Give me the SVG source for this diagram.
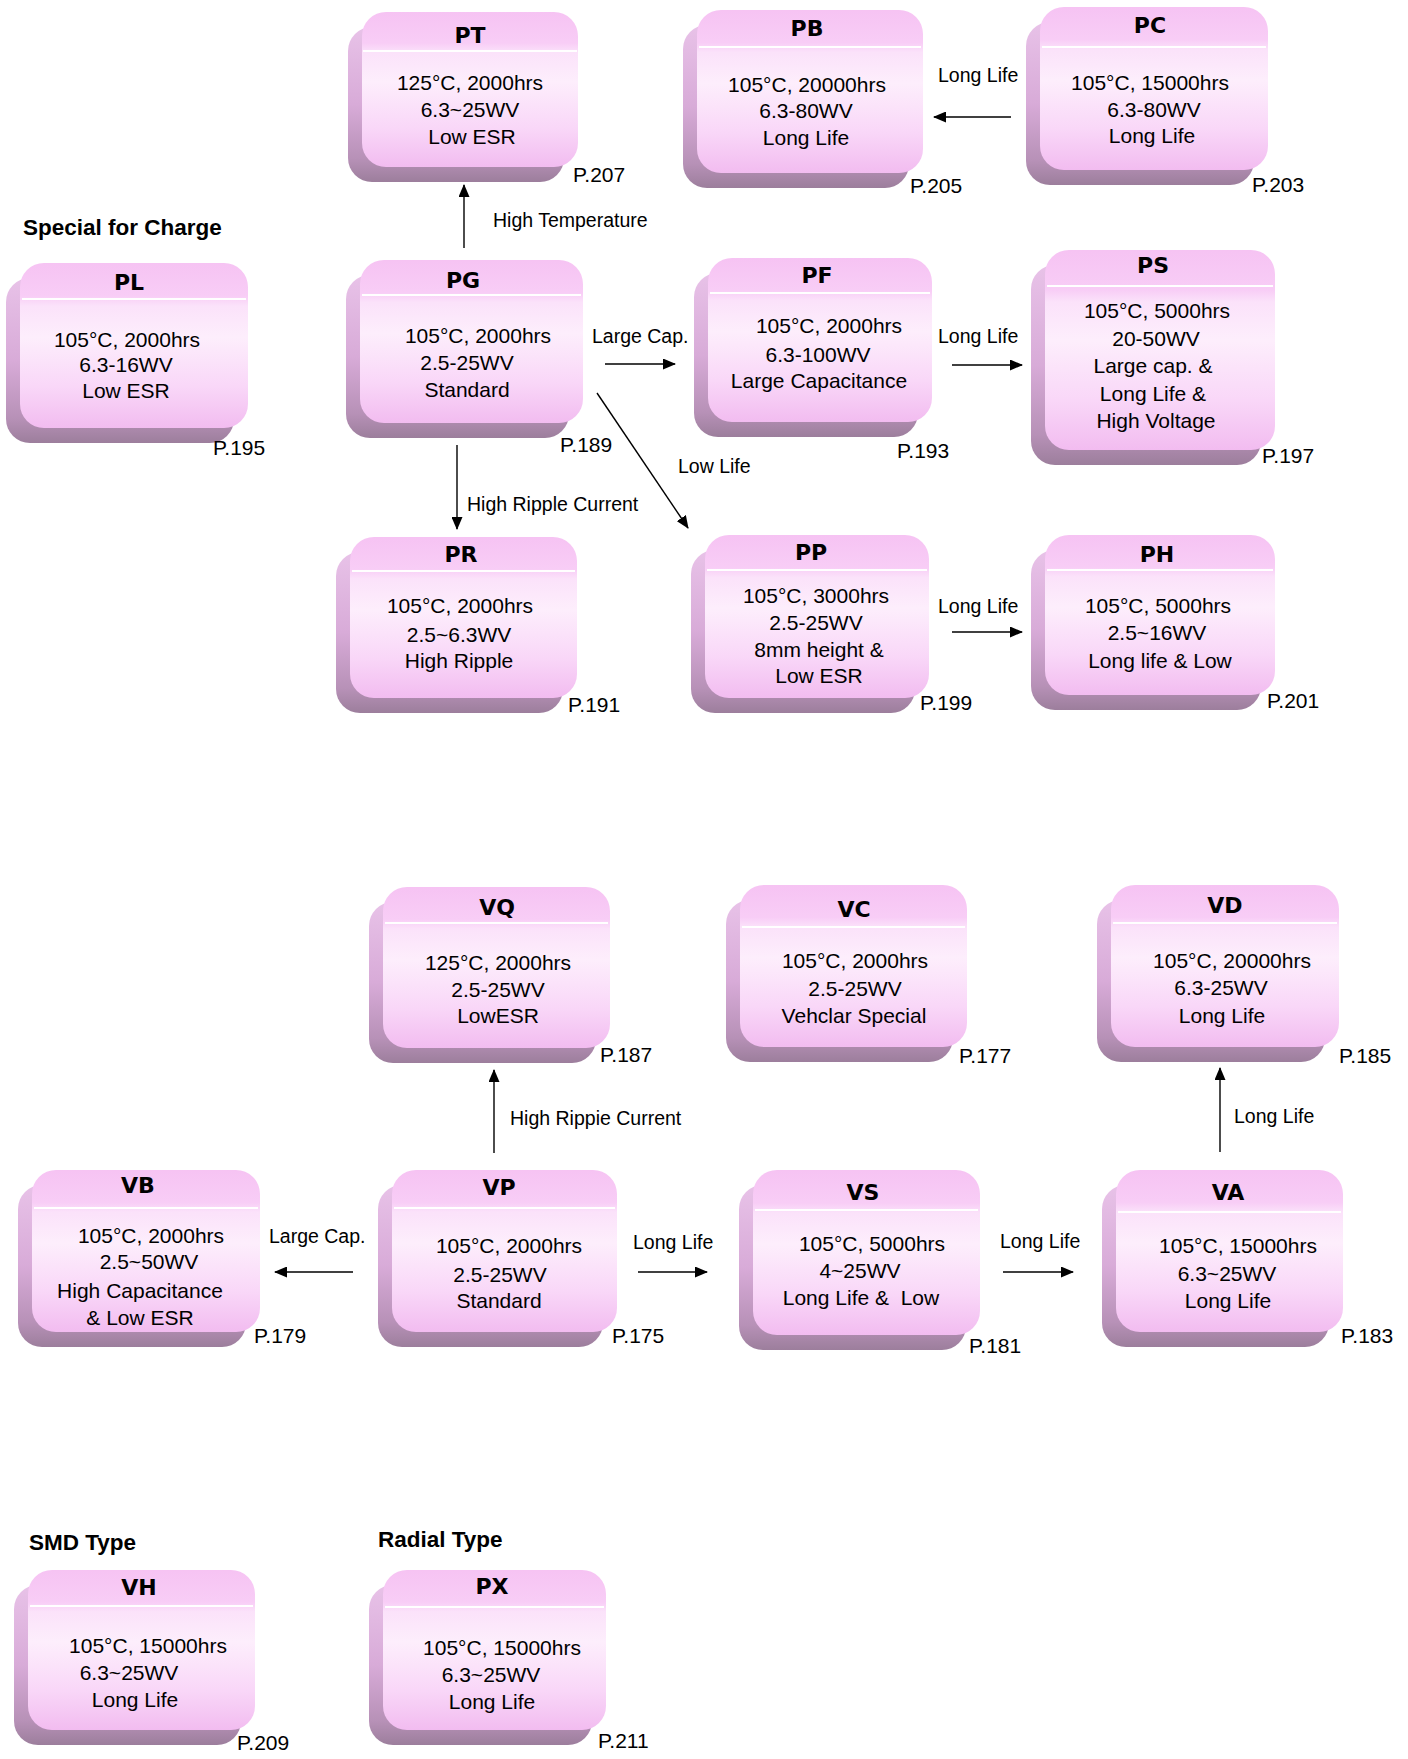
<svg xmlns="http://www.w3.org/2000/svg" width="1408" height="1759" viewBox="0 0 1408 1759">
<defs>
<linearGradient id="gf" x1="0" y1="0" x2="0" y2="1">
<stop offset="0" stop-color="#f6c3f3"/>
<stop offset="0.2" stop-color="#f8cdf6"/>
<stop offset="0.26" stop-color="#fbe2fa"/>
<stop offset="0.45" stop-color="#fdeefc"/>
<stop offset="0.75" stop-color="#f9d7f8"/>
<stop offset="1" stop-color="#f2bcf0"/>
</linearGradient>
<linearGradient id="gb" x1="0" y1="0" x2="0" y2="1">
<stop offset="0" stop-color="#e8c2e8"/>
<stop offset="0.5" stop-color="#d8abd8"/>
<stop offset="0.85" stop-color="#b791b7"/>
<stop offset="1" stop-color="#9c7e9c"/>
</linearGradient>
<marker id="ah" markerUnits="userSpaceOnUse" markerWidth="13" markerHeight="11" refX="12" refY="5.5" orient="auto">
<path d="M0,0 L13,5.5 L0,11 z" fill="#000"/>
</marker>
</defs>
<style>
.bk{fill:url(#gb)}
.fr{fill:url(#gf)}
.wl{stroke:#fff;stroke-width:2}
.t{font-family:"DejaVu Sans",Verdana,sans-serif;font-weight:bold;font-size:22px;text-anchor:middle;fill:#000}
.b{font-family:"Liberation Sans",Arial,sans-serif;font-size:21px;text-anchor:middle;fill:#000}
.p{font-family:"Liberation Sans",Arial,sans-serif;font-size:21px;fill:#000}
.l{font-family:"Liberation Sans",Arial,sans-serif;font-size:19.5px;fill:#000}
.h{font-family:"Liberation Sans",Arial,sans-serif;font-size:22.5px;font-weight:bold;fill:#000}
.c{stroke:#000;stroke-width:1.4;fill:none;marker-end:url(#ah)}
</style>
<rect width="1408" height="1759" fill="#fff"/>

<text class="h" x="23" y="235">Special for Charge</text>
<text class="h" x="29" y="1550">SMD Type</text>
<text class="h" x="378" y="1547">Radial Type</text>

<g id="connectors">
<line class="c" x1="464" y1="248" x2="464" y2="185"/>
<line class="c" x1="1011" y1="117" x2="934" y2="117"/>
<line class="c" x1="605" y1="364" x2="675" y2="364"/>
<line class="c" x1="952" y1="365" x2="1022" y2="365"/>
<line class="c" x1="457" y1="445" x2="457" y2="529"/>
<line class="c" x1="597" y1="393" x2="688" y2="528"/>
<line class="c" x1="952" y1="632" x2="1022" y2="632"/>
<line class="c" x1="494" y1="1153" x2="494" y2="1070"/>
<line class="c" x1="1220" y1="1152" x2="1220" y2="1068"/>
<line class="c" x1="353" y1="1272" x2="275" y2="1272"/>
<line class="c" x1="638" y1="1272" x2="707" y2="1272"/>
<line class="c" x1="1003" y1="1272" x2="1073" y2="1272"/>
<text class="l" x="493" y="227">High Temperature</text>
<text class="l" x="938" y="82">Long Life</text>
<text class="l" x="592" y="343">Large Cap.</text>
<text class="l" x="938" y="343">Long Life</text>
<text class="l" x="467" y="511">High Ripple Current</text>
<text class="l" x="678" y="473">Low Life</text>
<text class="l" x="938" y="613">Long Life</text>
<text class="l" x="510" y="1125">High Rippie Current</text>
<text class="l" x="1234" y="1123">Long Life</text>
<text class="l" x="269" y="1243">Large Cap.</text>
<text class="l" x="633" y="1249">Long Life</text>
<text class="l" x="1000" y="1248">Long Life</text>
</g>

<g id="PT">
<rect class="bk" x="348" y="27" width="216" height="155" rx="24"/>
<rect class="fr" x="362" y="12" width="216" height="155" rx="24"/>
<line class="wl" x1="363" y1="51" x2="577" y2="51"/>
<text class="t" x="470" y="43">PT</text>
<text class="b" x="470" y="90">125°C, 2000hrs</text>
<text class="b" x="470" y="117">6.3~25WV</text>
<text class="b" x="472" y="144">Low ESR</text>
<text class="p" x="573" y="182">P.207</text>
</g>

<g id="PB">
<rect class="bk" x="683" y="25" width="226" height="163" rx="24"/>
<rect class="fr" x="697" y="10" width="226" height="163" rx="24"/>
<line class="wl" x1="699" y1="47" x2="921" y2="47"/>
<text class="t" x="807" y="36">PB</text>
<text class="b" x="807" y="92">105°C, 20000hrs</text>
<text class="b" x="806" y="118">6.3-80WV</text>
<text class="b" x="806" y="145">Long Life</text>
<text class="p" x="910" y="193">P.205</text>
</g>

<g id="PC">
<rect class="bk" x="1026" y="22" width="228" height="163" rx="24"/>
<rect class="fr" x="1040" y="7" width="228" height="163" rx="24"/>
<line class="wl" x1="1042" y1="47" x2="1266" y2="47"/>
<text class="t" x="1150" y="33">PC</text>
<text class="b" x="1150" y="90">105°C, 15000hrs</text>
<text class="b" x="1154" y="117">6.3-80WV</text>
<text class="b" x="1152" y="143">Long Life</text>
<text class="p" x="1252" y="192">P.203</text>
</g>

<g id="PL">
<rect class="bk" x="6" y="278" width="228" height="165" rx="24"/>
<rect class="fr" x="20" y="263" width="228" height="165" rx="24"/>
<line class="wl" x1="22" y1="299" x2="246" y2="299"/>
<text class="t" x="129" y="290">PL</text>
<text class="b" x="127" y="347">105°C, 2000hrs</text>
<text class="b" x="126" y="372">6.3-16WV</text>
<text class="b" x="126" y="398">Low ESR</text>
<text class="p" x="213" y="455">P.195</text>
</g>

<g id="PG">
<rect class="bk" x="346" y="275" width="223" height="163" rx="24"/>
<rect class="fr" x="360" y="260" width="223" height="163" rx="24"/>
<line class="wl" x1="362" y1="295" x2="581" y2="295"/>
<text class="t" x="463" y="288">PG</text>
<text class="b" x="478" y="343">105°C, 2000hrs</text>
<text class="b" x="467" y="370">2.5-25WV</text>
<text class="b" x="467" y="397">Standard</text>
<text class="p" x="560" y="452">P.189</text>
</g>

<g id="PF">
<rect class="bk" x="694" y="273" width="224" height="164" rx="24"/>
<rect class="fr" x="708" y="258" width="224" height="164" rx="24"/>
<line class="wl" x1="710" y1="293" x2="930" y2="293"/>
<text class="t" x="817" y="283">PF</text>
<text class="b" x="829" y="333">105°C, 2000hrs</text>
<text class="b" x="818" y="362">6.3-100WV</text>
<text class="b" x="819" y="388">Large Capacitance</text>
<text class="p" x="897" y="458">P.193</text>
</g>

<g id="PS">
<rect class="bk" x="1031" y="265" width="230" height="200" rx="24"/>
<rect class="fr" x="1045" y="250" width="230" height="200" rx="24"/>
<line class="wl" x1="1047" y1="286" x2="1273" y2="286"/>
<text class="t" x="1153" y="273">PS</text>
<text class="b" x="1157" y="318">105°C, 5000hrs</text>
<text class="b" x="1156" y="346">20-50WV</text>
<text class="b" x="1153" y="373">Large cap. &amp;</text>
<text class="b" x="1153" y="401">Long Life &amp;</text>
<text class="b" x="1156" y="428">High Voltage</text>
<text class="p" x="1262" y="463">P.197</text>
</g>

<g id="PR">
<rect class="bk" x="336" y="552" width="227" height="161" rx="24"/>
<rect class="fr" x="350" y="537" width="227" height="161" rx="24"/>
<line class="wl" x1="352" y1="571" x2="575" y2="571"/>
<text class="t" x="461" y="562">PR</text>
<text class="b" x="460" y="613">105°C, 2000hrs</text>
<text class="b" x="459" y="642">2.5~6.3WV</text>
<text class="b" x="459" y="668">High Ripple</text>
<text class="p" x="568" y="712">P.191</text>
</g>

<g id="PP">
<rect class="bk" x="691" y="550" width="224" height="163" rx="24"/>
<rect class="fr" x="705" y="535" width="224" height="163" rx="24"/>
<line class="wl" x1="707" y1="570" x2="927" y2="570"/>
<text class="t" x="811" y="560">PP</text>
<text class="b" x="816" y="603">105°C, 3000hrs</text>
<text class="b" x="816" y="630">2.5-25WV</text>
<text class="b" x="819" y="657">8mm height &amp;</text>
<text class="b" x="819" y="683">Low ESR</text>
<text class="p" x="920" y="710">P.199</text>
</g>

<g id="PH">
<rect class="bk" x="1031" y="550" width="230" height="160" rx="24"/>
<rect class="fr" x="1045" y="535" width="230" height="160" rx="24"/>
<line class="wl" x1="1047" y1="570" x2="1273" y2="570"/>
<text class="t" x="1157" y="562">PH</text>
<text class="b" x="1158" y="613">105°C, 5000hrs</text>
<text class="b" x="1157" y="640">2.5~16WV</text>
<text class="b" x="1160" y="668">Long life &amp; Low</text>
<text class="p" x="1267" y="708">P.201</text>
</g>

<g id="VQ">
<rect class="bk" x="369" y="902" width="227" height="161" rx="24"/>
<rect class="fr" x="383" y="887" width="227" height="161" rx="24"/>
<line class="wl" x1="385" y1="923" x2="608" y2="923"/>
<text class="t" x="497" y="915">VQ</text>
<text class="b" x="498" y="970">125°C, 2000hrs</text>
<text class="b" x="498" y="997">2.5-25WV</text>
<text class="b" x="498" y="1023">LowESR</text>
<text class="p" x="600" y="1062">P.187</text>
</g>

<g id="VC">
<rect class="bk" x="726" y="900" width="227" height="162" rx="24"/>
<rect class="fr" x="740" y="885" width="227" height="162" rx="24"/>
<line class="wl" x1="742" y1="927" x2="965" y2="927"/>
<text class="t" x="854" y="917">VC</text>
<text class="b" x="855" y="968">105°C, 2000hrs</text>
<text class="b" x="855" y="996">2.5-25WV</text>
<text class="b" x="854" y="1023">Vehclar Special</text>
<text class="p" x="959" y="1063">P.177</text>
</g>

<g id="VD">
<rect class="bk" x="1097" y="900" width="228" height="162" rx="24"/>
<rect class="fr" x="1111" y="885" width="228" height="162" rx="24"/>
<line class="wl" x1="1113" y1="923" x2="1337" y2="923"/>
<text class="t" x="1225" y="913">VD</text>
<text class="b" x="1232" y="968">105°C, 20000hrs</text>
<text class="b" x="1221" y="995">6.3-25WV</text>
<text class="b" x="1222" y="1023">Long Life</text>
<text class="p" x="1339" y="1063">P.185</text>
</g>

<g id="VB">
<rect class="bk" x="18" y="1185" width="228" height="162" rx="24"/>
<rect class="fr" x="32" y="1170" width="228" height="162" rx="24"/>
<line class="wl" x1="34" y1="1208" x2="258" y2="1208"/>
<text class="t" x="138" y="1193">VB</text>
<text class="b" x="151" y="1243">105°C, 2000hrs</text>
<text class="b" x="149" y="1269">2.5~50WV</text>
<text class="b" x="140" y="1298">High Capacitance</text>
<text class="b" x="140" y="1325">&amp; Low ESR</text>
<text class="p" x="254" y="1343">P.179</text>
</g>

<g id="VP">
<rect class="bk" x="378" y="1185" width="225" height="162" rx="24"/>
<rect class="fr" x="392" y="1170" width="225" height="162" rx="24"/>
<line class="wl" x1="394" y1="1208" x2="615" y2="1208"/>
<text class="t" x="499" y="1195">VP</text>
<text class="b" x="509" y="1253">105°C, 2000hrs</text>
<text class="b" x="500" y="1282">2.5-25WV</text>
<text class="b" x="499" y="1308">Standard</text>
<text class="p" x="612" y="1343">P.175</text>
</g>

<g id="VS">
<rect class="bk" x="739" y="1185" width="227" height="165" rx="24"/>
<rect class="fr" x="753" y="1170" width="227" height="165" rx="24"/>
<line class="wl" x1="755" y1="1210" x2="978" y2="1210"/>
<text class="t" x="863" y="1200">VS</text>
<text class="b" x="872" y="1251">105°C, 5000hrs</text>
<text class="b" x="860" y="1278">4~25WV</text>
<text class="b" x="861" y="1305" xml:space="preserve">Long Life &amp;  Low</text>
<text class="p" x="969" y="1353">P.181</text>
</g>

<g id="VA">
<rect class="bk" x="1102" y="1185" width="227" height="162" rx="24"/>
<rect class="fr" x="1116" y="1170" width="227" height="162" rx="24"/>
<line class="wl" x1="1118" y1="1212" x2="1341" y2="1212"/>
<text class="t" x="1228" y="1200">VA</text>
<text class="b" x="1238" y="1253">105°C, 15000hrs</text>
<text class="b" x="1227" y="1281">6.3~25WV</text>
<text class="b" x="1228" y="1308">Long Life</text>
<text class="p" x="1341" y="1343">P.183</text>
</g>

<g id="VH">
<rect class="bk" x="14" y="1585" width="227" height="160" rx="24"/>
<rect class="fr" x="28" y="1570" width="227" height="160" rx="24"/>
<line class="wl" x1="30" y1="1606" x2="253" y2="1606"/>
<text class="t" x="139" y="1595">VH</text>
<text class="b" x="148" y="1653">105°C, 15000hrs</text>
<text class="b" x="129" y="1680">6.3~25WV</text>
<text class="b" x="135" y="1707">Long Life</text>
<text class="p" x="237" y="1750">P.209</text>
</g>

<g id="PX">
<rect class="bk" x="369" y="1585" width="223" height="160" rx="24"/>
<rect class="fr" x="383" y="1570" width="223" height="160" rx="24"/>
<line class="wl" x1="385" y1="1607" x2="604" y2="1607"/>
<text class="t" x="492" y="1594">PX</text>
<text class="b" x="502" y="1655">105°C, 15000hrs</text>
<text class="b" x="491" y="1682">6.3~25WV</text>
<text class="b" x="492" y="1709">Long Life</text>
<text class="p" x="598" y="1748">P.211</text>
</g>
</svg>
